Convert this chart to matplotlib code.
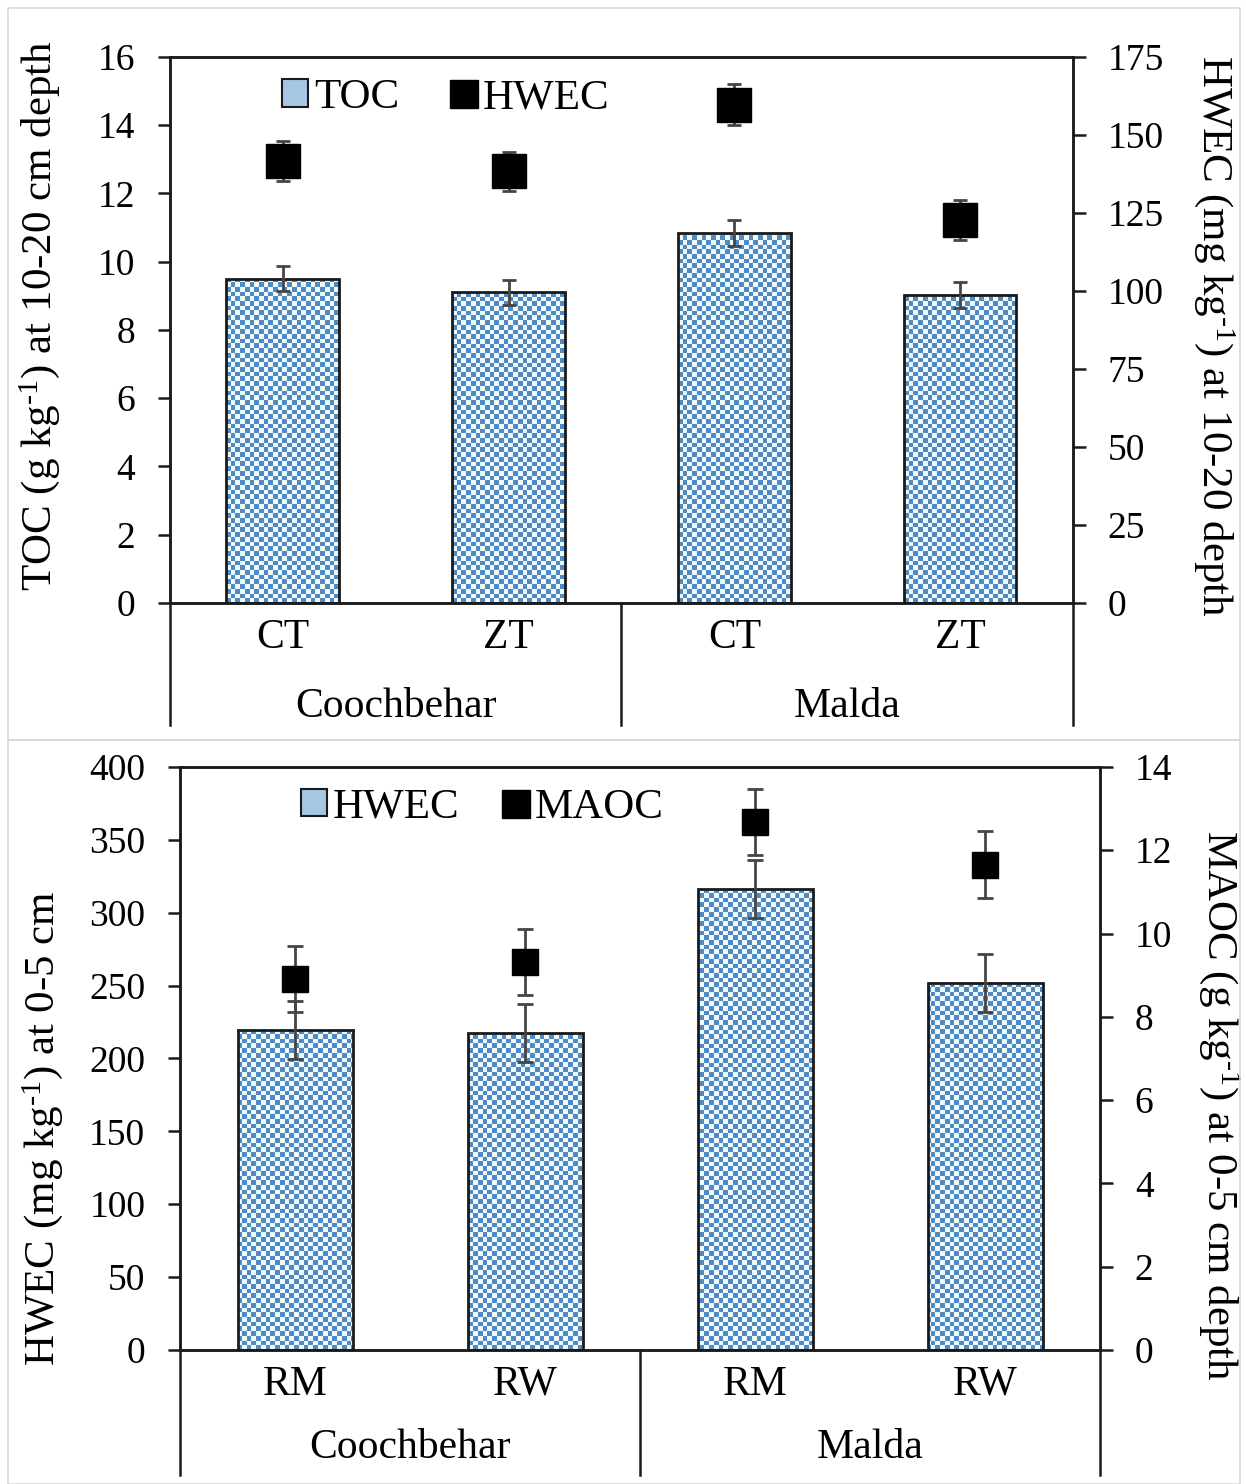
import numpy as np
import matplotlib
matplotlib.use('Agg')
from matplotlib import pyplot as plt
from matplotlib.colors import ListedColormap
from matplotlib.patches import Patch, Rectangle
from matplotlib.lines import Line2D

plt.rcParams['font.family'] = ['Liberation Serif', 'DejaVu Serif']
plt.rcParams['mathtext.fontset'] = 'custom'
plt.rcParams['mathtext.rm'] = 'Liberation Serif'
plt.rcParams['mathtext.it'] = 'Liberation Serif:italic'

# top panel data (10-20 cm)
top_sub = ['CT', 'ZT', 'CT', 'ZT']
top_groups = ['Coochbehar', 'Malda']
toc = [9.5, 9.1, 10.85, 9.03]
toc_err = [0.36, 0.37, 0.38, 0.38]
hwec_top = [141.7, 138.3, 159.7, 122.6]
hwec_top_err = [6.4, 6.4, 6.5, 6.4]

# bottom panel data (0-5 cm)
bot_sub = ['RM', 'RW', 'RM', 'RW']
bot_groups = ['Coochbehar', 'Malda']
hwec_bot = [219.6, 217.5, 316.3, 251.8]
hwec_bot_err = [20, 20, 20, 20]
maoc = [8.91, 9.32, 12.68, 11.65]
maoc_err = [0.8, 0.8, 0.8, 0.8]

BLUE = '#4f8cc4'
LIGHT = '#f2f9fd'
AXC = '#1a1a1a'
ERRC = '#454545'
TICK_FS = 27
CAT_FS = 30
LAB_FS = 31
LEG_FS = 31
SUP = r'$^{\text{-1}}$'

fig = plt.figure(figsize=(12.46, 14.84), dpi=100)

# light grey panel frames
for y0, h in [(0.5013, 0.4933), (0.0, 0.5013)]:
    fig.patches.append(Rectangle((0.0065, y0), 0.989, h, transform=fig.transFigure,
                                 fill=False, edgecolor='#d8d8d8', lw=1.2))


def checker_bars(ax, x, vals, ylim, cell_px):
    bars = ax.bar(x, vals, width=0.5, facecolor='none', edgecolor=AXC, lw=2, zorder=3)
    ax.set_xlim(-0.5, len(x) - 0.5)
    ax.set_ylim(*ylim)
    bb = ax.get_window_extent()
    nx = int(bb.width / cell_px)
    ny = int(bb.height / cell_px)
    board = np.indices((ny, nx)).sum(axis=0) % 2
    cmap = ListedColormap([LIGHT, BLUE])
    for b in bars:
        im = ax.imshow(board, cmap=cmap, interpolation='nearest', aspect='auto',
                       extent=(-0.5, len(x) - 0.5, ylim[0], ylim[1]), zorder=2)
        im.set_clip_path(b)
    ax.set_xlim(-0.5, len(x) - 0.5)
    ax.set_ylim(*ylim)
    return bars


def style(ax, ax2):
    for a in (ax, ax2):
        for s in a.spines.values():
            s.set_color(AXC)
            s.set_linewidth(1.8)
        a.tick_params(axis='y', labelsize=TICK_FS, length=9, width=1.8, color=AXC, pad=16)
    ax.tick_params(axis='x', length=0, labelsize=CAT_FS, pad=11)


def group_axis(ax, groups, depth, label_y):
    for xb in [-0.5, 1.5, 3.5]:
        ax.add_line(Line2D([xb, xb], [0, -depth], transform=ax.get_xaxis_transform(),
                           color=AXC, lw=1.8, clip_on=False))
    for i, g in enumerate(groups):
        ax.text(0.5 + 2 * i, label_y, g, transform=ax.get_xaxis_transform(),
                ha='center', va='center', fontsize=CAT_FS)


# ---- top panel ----
ax = fig.add_axes([0.1364, 0.5937, 0.7247, 0.3679])
x = np.arange(len(top_sub))
checker_bars(ax, x, toc, (0, 16), 4.7)
ax.errorbar(x, toc, yerr=toc_err, fmt='none', ecolor=ERRC, elinewidth=2,
            capsize=5, capthick=2, zorder=4)
ax.set_yticks(np.arange(0, 17, 2))
ax.set_xticks(x)
ax.set_xticklabels(top_sub)
ax.set_ylabel('TOC (g kg' + SUP + ') at 10-20 cm depth', fontsize=LAB_FS, va='center')
ax.yaxis.set_label_coords(-0.144, 0.527)
ax2 = ax.twinx()
ax2.set_ylim(0, 175)
ax2.set_yticks(np.arange(0, 176, 25))
ax2.errorbar(x, hwec_top, yerr=hwec_top_err, fmt='s', color='black', ms=24,
             ecolor=ERRC, elinewidth=2, capsize=5, capthick=2, zorder=5)
ax2.set_ylabel('HWEC (mg kg' + SUP + ') at 10-20 depth', fontsize=LAB_FS, rotation=270,
               va='center')
ax2.yaxis.set_label_coords(1.157, 0.49)
style(ax, ax2)
group_axis(ax, top_groups, 0.2234, -0.19)
h1 = Patch(facecolor='#a6c6e4', edgecolor=AXC, lw=1.5, label='TOC')
h2 = Line2D([], [], marker='s', color='black', ls='none', ms=20, label='HWEC')
ax2.legend(handles=[h1, h2], loc='upper left', bbox_to_anchor=(0.1, 1.0), ncol=2,
           frameon=False, fontsize=LEG_FS, handlelength=0.6, handleheight=0.6,
           handletextpad=0.15, columnspacing=1.2, borderaxespad=0.1)

# ---- bottom panel ----
ax = fig.add_axes([0.1445, 0.0903, 0.7384, 0.3929])
x = np.arange(len(bot_sub))
checker_bars(ax, x, hwec_bot, (0, 400), 4.7)
ax.errorbar(x, hwec_bot, yerr=hwec_bot_err, fmt='none', ecolor=ERRC, elinewidth=2,
            capsize=5.5, capthick=2, zorder=4)
ax.set_yticks(np.arange(0, 401, 50))
ax.set_xticks(x)
ax.set_xticklabels(bot_sub)
ax.set_ylabel('HWEC (mg kg' + SUP + ') at 0-5 cm', fontsize=LAB_FS, va='center')
ax.yaxis.set_label_coords(-0.150, 0.38)
ax2 = ax.twinx()
ax2.set_ylim(0, 14)
ax2.set_yticks(np.arange(0, 15, 2))
ax2.errorbar(x, maoc, yerr=maoc_err, fmt='s', color='black', ms=19,
             ecolor=ERRC, elinewidth=2, capsize=5.5, capthick=2, zorder=5)
ax2.set_ylabel('MAOC (g kg' + SUP + ') at 0-5 cm depth', fontsize=LAB_FS, rotation=270,
               va='center')
ax2.yaxis.set_label_coords(1.13, 0.42)
style(ax, ax2)
group_axis(ax, bot_groups, 0.214, -0.168)
h1 = Patch(facecolor='#a6c6e4', edgecolor=AXC, lw=1.5, label='HWEC')
h2 = Line2D([], [], marker='s', color='black', ls='none', ms=20, label='MAOC')
ax2.legend(handles=[h1, h2], loc='upper left', bbox_to_anchor=(0.108, 1.0), ncol=2,
           frameon=False, fontsize=LEG_FS, handlelength=0.6, handleheight=0.6,
           handletextpad=0.15, columnspacing=1.0, borderaxespad=0.1)

fig.savefig('out.png', dpi=100)
